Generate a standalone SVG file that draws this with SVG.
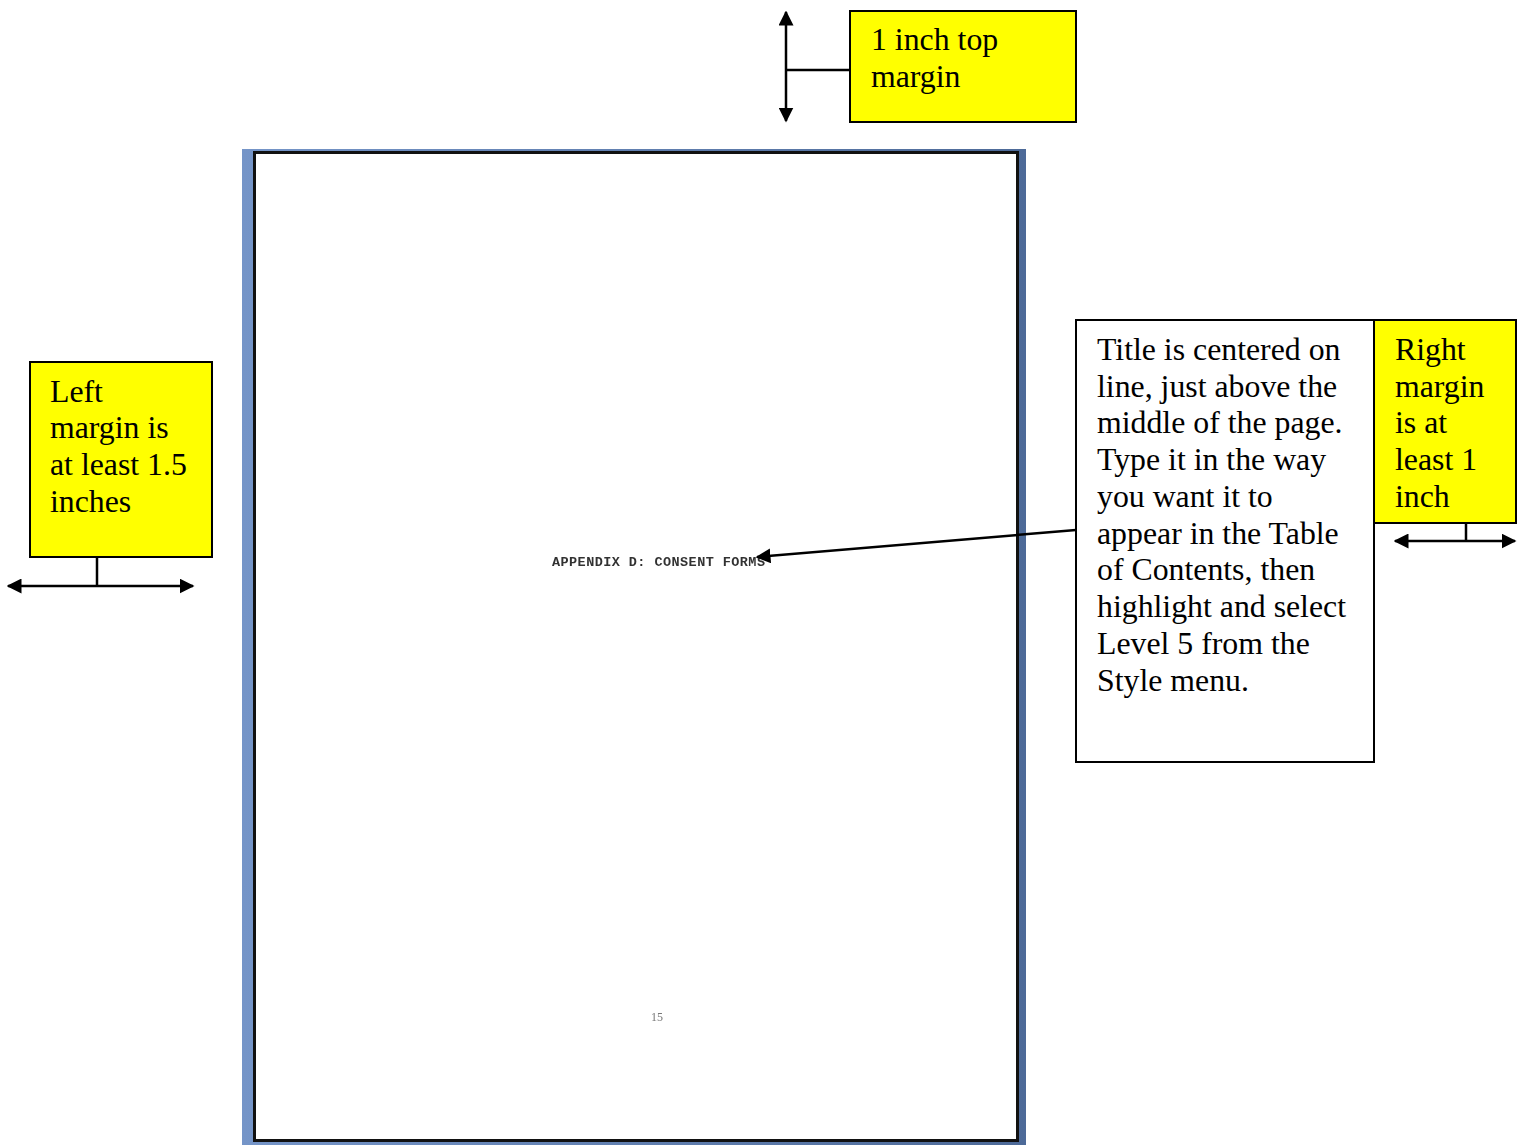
<svg xmlns="http://www.w3.org/2000/svg" width="1525" height="1145" viewBox="0 0 1525 1145">
<style>
.note{fill:#ffff00;stroke:#000;stroke-width:2}
.t{font-family:"Liberation Serif","Times New Roman",serif;font-size:31.8px;fill:#000}
.ln{stroke:#000;stroke-width:2.5;fill:none}
</style>
<defs>
<linearGradient id="blue" x1="0" y1="0" x2="1" y2="0">
<stop offset="0" stop-color="#7595c8"/>
<stop offset="1" stop-color="#4d6a98"/>
</linearGradient>
<marker id="ah" viewBox="0 0 10 10" refX="9" refY="5" markerWidth="6" markerHeight="6" markerUnits="strokeWidth" orient="auto-start-reverse">
<path d="M0,0 L10,5 L0,10 z" fill="#000"/>
</marker>
<filter id="blur"><feGaussianBlur stdDeviation="0.7"/></filter>
</defs>
<g id="page">
<rect x="242" y="149" width="784" height="996" fill="url(#blue)"/>
<rect x="254.5" y="152.5" width="763" height="988" fill="#fff" stroke="#111" stroke-width="3"/>
<text x="552" y="566" font-family="Liberation Mono,monospace" font-weight="bold" font-size="13.5" fill="#333" filter="url(#blur)" textLength="213">APPENDIX D: CONSENT FORMS</text>
<text x="651" y="1021" font-family="Liberation Serif,serif" font-size="12" fill="#777" filter="url(#blur)">15</text>
</g>
<g id="top-margin">
<rect class="note" x="850" y="11" width="226" height="111"/>
<text class="t" x="871" y="50">1 inch top</text>
<text class="t" x="871" y="87">margin</text>
</g>
<g id="left-margin">
<rect class="note" x="30" y="362" width="182" height="195"/>
<text class="t" x="50" y="402">Left</text>
<text class="t" x="50" y="438">margin is</text>
<text class="t" x="50" y="475">at least 1.5</text>
<text class="t" x="50" y="512">inches</text>
</g>
<g id="title-note">
<rect x="1076" y="320" width="298" height="442" fill="#fff" stroke="#000" stroke-width="2"/>
<text class="t" x="1097" y="360">Title is centered on</text>
<text class="t" x="1097" y="397">line, just above the</text>
<text class="t" x="1097" y="433">middle of the page.</text>
<text class="t" x="1097" y="470">Type it in the way</text>
<text class="t" x="1097" y="507">you want it to</text>
<text class="t" x="1097" y="544">appear in the Table</text>
<text class="t" x="1097" y="580">of Contents, then</text>
<text class="t" x="1097" y="617">highlight and select</text>
<text class="t" x="1097" y="654">Level 5 from the</text>
<text class="t" x="1097" y="691">Style menu.</text>
</g>
<g id="right-margin">
<rect class="note" x="1374" y="320" width="142" height="203"/>
<text class="t" x="1395" y="360">Right</text>
<text class="t" x="1395" y="397">margin</text>
<text class="t" x="1395" y="433">is at</text>
<text class="t" x="1395" y="470">least 1</text>
<text class="t" x="1395" y="507">inch</text>
</g>
<g id="connectors">
<line class="ln" x1="786" y1="70" x2="850" y2="70"/>
<line class="ln" x1="786" y1="12" x2="786" y2="121" marker-start="url(#ah)" marker-end="url(#ah)"/>
<line class="ln" x1="97" y1="557" x2="97" y2="586"/>
<line class="ln" x1="8" y1="586" x2="193" y2="586" marker-start="url(#ah)" marker-end="url(#ah)"/>
<line class="ln" x1="1466" y1="523" x2="1466" y2="541"/>
<line class="ln" x1="1395" y1="541" x2="1515" y2="541" marker-start="url(#ah)" marker-end="url(#ah)"/>
<line class="ln" x1="1076" y1="530" x2="757" y2="557" marker-end="url(#ah)"/>
</g>
</svg>
